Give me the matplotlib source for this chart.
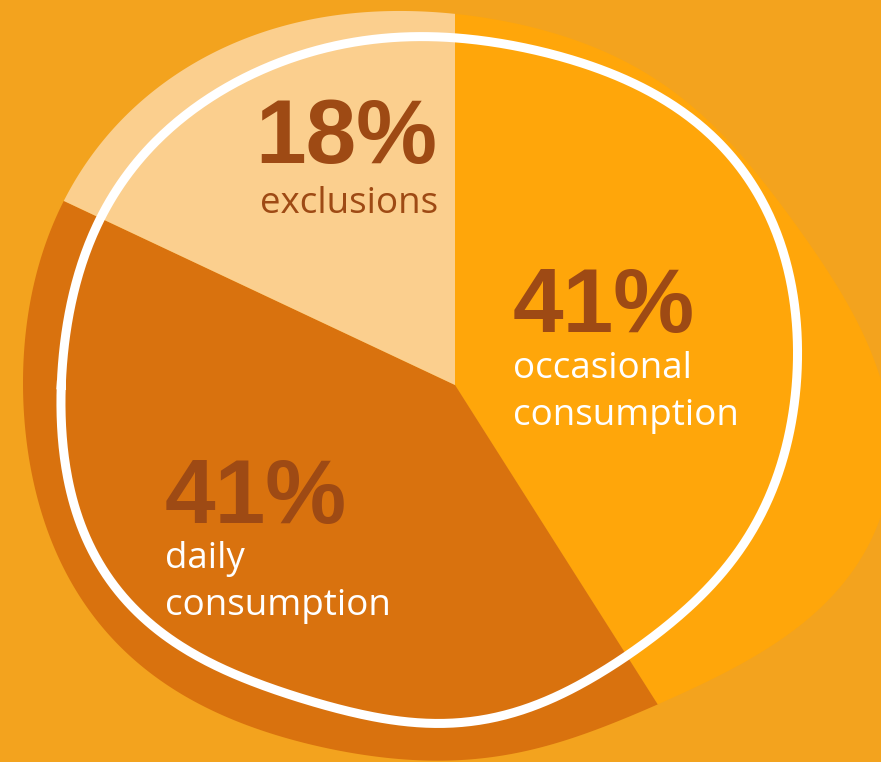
import numpy as np
import matplotlib
matplotlib.use("Agg")
import matplotlib.pyplot as plt
from matplotlib.path import Path
from matplotlib.patches import PathPatch

# ---- data ----
categories = ["occasional consumption", "daily consumption", "exclusions"]
shares = [41, 41, 18]
pct_labels = ["41%", "41%", "18%"]
label_lines = [["occasional", "consumption"], ["daily", "consumption"], ["exclusions"]]
slice_colors = ["#FFA60A", "#D9720E", "#FBCF8E"]
label_colors = ["white", "white", "#9E4A14"]

# blob outline (decorative clip shape, pixel coordinates)
blob_x = [454, 530, 600, 700, 767, 833, 881, 897, 881, 860, 817, 750, 662, 613, 547, 447,
          380, 300, 233, 167, 100, 50, 27, 23, 27, 43, 63, 100, 167, 267, 367]
blob_y = [11, 28, 52, 110, 187, 283, 380, 435, 490, 563, 613, 657, 703, 723, 747, 760,
          755, 743, 723, 683, 617, 550, 450, 383, 350, 250, 202, 143, 80, 33, 12]
# white ring outline
ring_x = [460, 530, 600, 667, 733, 767, 787, 797, 797, 787, 760, 727, 683, 633, 597, 530,
          463, 413, 347, 267, 200, 133, 93, 67, 60, 67, 90, 117, 183, 267, 333, 400]
ring_y = [37, 48, 72, 100, 157, 213, 267, 333, 380, 447, 513, 567, 613, 653, 673, 707,
          723, 723, 710, 687, 657, 610, 550, 467, 383, 317, 250, 187, 117, 67, 47, 38]

CX, CY = 455, 385


def smooth_closed(xs, ys, K=6, n=720):
    """Least-squares low-order Fourier fit of r(theta) around the pie centre."""
    x = np.asarray(xs, float) - CX
    y = np.asarray(ys, float) - CY
    th = np.arctan2(y, x)
    r = np.hypot(x, y)
    cols = [np.ones_like(th)]
    for k in range(1, K + 1):
        cols += [np.cos(k * th), np.sin(k * th)]
    A = np.column_stack(cols)
    coef, *_ = np.linalg.lstsq(A, r, rcond=None)
    t = np.linspace(-np.pi, np.pi, n)
    cols = [np.ones_like(t)]
    for k in range(1, K + 1):
        cols += [np.cos(k * t), np.sin(k * t)]
    rr = np.column_stack(cols) @ coef
    return np.column_stack([CX + rr * np.cos(t), CY + rr * np.sin(t)])


W, H = 881, 762
bg = "#F3A31E"
fig = plt.figure(figsize=(W / 100, H / 100), dpi=100)
fig.patch.set_facecolor(bg)
ax = fig.add_axes([0, 0, 1, 1])
ax.set_facecolor(bg)

wedges, _ = ax.pie(shares, colors=slice_colors, startangle=-90, counterclock=True,
                   radius=800, center=(CX, CY), wedgeprops=dict(linewidth=0))

blob = smooth_closed(blob_x, blob_y, K=6)
codes = [Path.MOVETO] + [Path.LINETO] * (len(blob) - 2) + [Path.CLOSEPOLY]
clip_patch = PathPatch(Path(blob, codes), transform=ax.transData,
                       facecolor="none", edgecolor="none")
ax.add_patch(clip_patch)
for w in wedges:
    w.set_clip_on(True)
    w.set_clip_path(clip_patch)

ring = smooth_closed(ring_x, ring_y, K=7)
ax.plot(ring[:, 0], ring[:, 1], color="white", linewidth=6.5,
        solid_joinstyle="round", zorder=5)

ax.set_xlim(0, W)
ax.set_ylim(H, 0)
ax.set_aspect("auto")
ax.axis("off")

pct_pos = [(513, 332), (165, 523), (255, 163)]
line_pos = [[(513, 378), (513, 425)], [(165, 568), (165, 615)], [(260, 213)]]
for i in range(3):
    ax.text(pct_pos[i][0], pct_pos[i][1], pct_labels[i], fontsize=65.5, fontweight="bold",
            family="Liberation Sans", color="#9E4A14", ha="left", va="baseline", zorder=6)
    for txt, (x, y) in zip(label_lines[i], line_pos[i]):
        ax.text(x, y, txt, fontsize=26.5, family="Open Sans", color=label_colors[i],
                ha="left", va="baseline", zorder=6)

fig.savefig("out.png", dpi=100, facecolor=fig.get_facecolor())
